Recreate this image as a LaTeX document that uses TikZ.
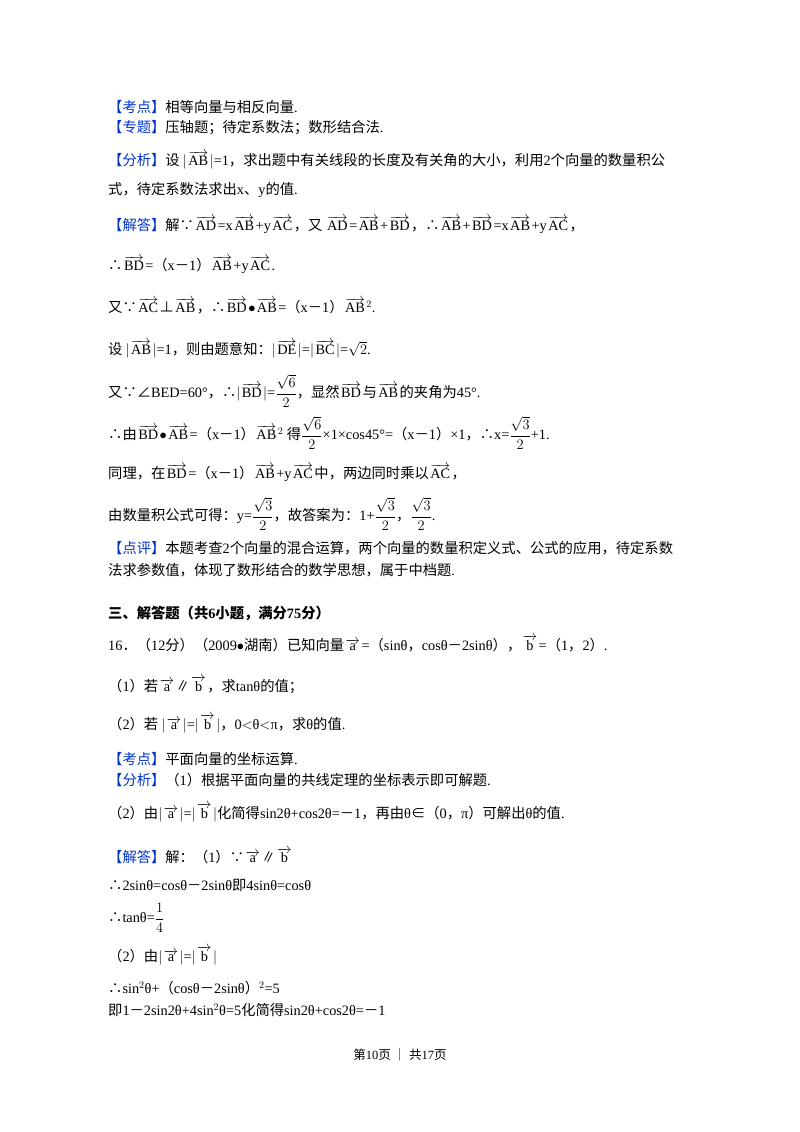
\documentclass[tikz,border=0pt]{standalone}
\usepackage{amsmath}
\usepackage{fontspec}
\setmainfont{Liberation Serif}
\newfontfamily\cjk{Noto Sans CJK SC}
\XeTeXinterchartokenstate=1
\newXeTeXintercharclass\cjkclass
\newcommand\setcls[2]{\count255=#1 \loop\XeTeXcharclass\count255=\cjkclass\ifnum\count255<#2 \advance\count255 1 \repeat}
\setcls{"3000}{"303F}
\setcls{"4E00}{"9FFF}
\setcls{"FF00}{"FFEF}
\XeTeXcharclass"2234=\cjkclass
\XeTeXcharclass"2235=\cjkclass
\XeTeXcharclass"2220=\cjkclass
\XeTeXcharclass"22A5=\cjkclass
\XeTeXcharclass"2208=\cjkclass
\XeTeXcharclass"2225=\cjkclass
\XeTeXinterchartoks 0 \cjkclass={\cjk}
\XeTeXinterchartoks 4095 \cjkclass={\cjk}
\XeTeXinterchartoks \cjkclass 0={\rmfamily}
\XeTeXinterchartoks 4095 0={\rmfamily}
\definecolor{tagblue}{RGB}{0,51,204}
\newcommand\tg[1]{{\color{tagblue}【#1】}}
\newcommand\vv[1]{\kern1.5pt\hbox{\rmfamily$\overrightarrow{\hbox{\rmfamily #1}}$}\kern1.5pt\rmfamily}
\tikzset{ln/.style={anchor=west,inner sep=0pt,font=\fontsize{14.3}{16}\selectfont}}
\begin{document}
\begin{tikzpicture}[x=1pt,y=-1pt]
\useasboundingbox (0,0) rectangle (800,1132);
\node[ln] (a1) at (108,107) {\tg{考点}相等向量与相反向量.};
\node[ln] (a2) at (108,128) {\tg{专题}压轴题；待定系数法；数形结合法.};
\node[ln] (a3) at (108,160) {\tg{分析}设 $|$\vv{AB}$|$=1，求出题中有关线段的长度及有关角的大小，利用2个向量的数量积公};
\node[ln] (a4) at (108,190) {式，待定系数法求出x、y的值.};
\node[ln] (a5) at (108,225) {\tg{解答}解∵\vv{AD}=x\vv{AB}+y\vv{AC}，又 \vv{AD}=\vv{AB}+\vv{BD}，∴\vv{AB}+\vv{BD}=x\vv{AB}+y\vv{AC}，};
\node[ln] (a6) at (108,265) {∴\vv{BD}=（x－1）\vv{AB}+y\vv{AC}.};
\node[ln] (a7) at (108,306) {又∵\vv{AC}⊥\vv{AB}，∴\vv{BD}$\bullet$\vv{AB}=（x－1）\vv{AB}$^2$.};
\node[ln] (a8) at (108,349) {设 $|$\vv{AB}$|$=1，则由题意知：$|$\vv{DE}$|$=$|$\vv{BC}$|$=$\sqrt{2}$.};
\node[ln] (a9) at (108,391) {又∵∠BED=60°，∴$|$\vv{BD}$|$=$\dfrac{\sqrt6}{2}$，显然\vv{BD}与\vv{AB}的夹角为45°.};
\node[ln] (a10) at (108,433) {∴由\vv{BD}$\bullet$\vv{AB}=（x－1）\vv{AB}$^2$ 得$\dfrac{\sqrt6}{2}$×1×cos45°=（x－1）×1，∴x=$\dfrac{\sqrt3}{2}$+1.};
\node[ln] (a11) at (108,473) {同理，在\vv{BD}=（x－1）\vv{AB}+y\vv{AC}中，两边同时乘以\vv{AC}，};
\node[ln] (a12) at (108,514) {由数量积公式可得：y=$\dfrac{\sqrt3}{2}$，故答案为：1+$\dfrac{\sqrt3}{2}$，$\dfrac{\sqrt3}{2}$.};
\node[ln] (a13) at (108,548) {\tg{点评}本题考查2个向量的混合运算，两个向量的数量积定义式、公式的应用，待定系数};
\node[ln] (a14) at (108,570) {法求参数值，体现了数形结合的数学思想，属于中档题.};
\node[ln,font=\fontsize{14.3}{16}\selectfont\bfseries] (a15) at (108,613) {三、解答题（共6小题，满分75分）};
\node[ln] (a16) at (108,644) {16．（12分）（2009$\bullet$湖南）已知向量\vv{a}=（sinθ，cosθ－2sinθ），\vv{b}=（1，2）.};
\node[ln] (a17) at (108,685) {（1）若\vv{a}∥\vv{b}，求tanθ的值；};
\node[ln] (a18) at (108,724) {（2）若 $|$\vv{a}$|$=$|$\vv{b}$|$，0$<$θ$<$π，求θ的值.};
\node[ln] (a19) at (108,759) {\tg{考点}平面向量的坐标运算.};
\node[ln] (a20) at (108,780) {\tg{分析}（1）根据平面向量的共线定理的坐标表示即可解题.};
\node[ln] (a21) at (108,813) {（2）由$|$\vv{a}$|$=$|$\vv{b}$|$化简得sin2θ+cos2θ=－1，再由θ∈（0，π）可解出θ的值.};
\node[ln] (a22) at (108,856) {\tg{解答}解：（1）∵\vv{a}∥\vv{b}};
\node[ln] (a23) at (108,885) {∴2sinθ=cosθ－2sinθ即4sinθ=cosθ};
\node[ln] (a24) at (108,918) {∴tanθ=$\dfrac{1}{4}$};
\node[ln] (a25) at (108,956) {（2）由$|$\vv{a}$|$=$|$\vv{b}$|$};
\node[ln] (a26) at (108,988) {∴sin$^2$θ+（cosθ－2sinθ）$^2$=5};
\node[ln] (a27) at (108,1010) {即1－2sin2θ+4sin$^2$θ=5化简得sin2θ+cos2θ=－1};
\node[ln,anchor=center,font=\fontsize{12.5}{14}\selectfont] (ft) at (400,1055) {第10页 ｜ 共17页};
\end{tikzpicture}
\end{document}
